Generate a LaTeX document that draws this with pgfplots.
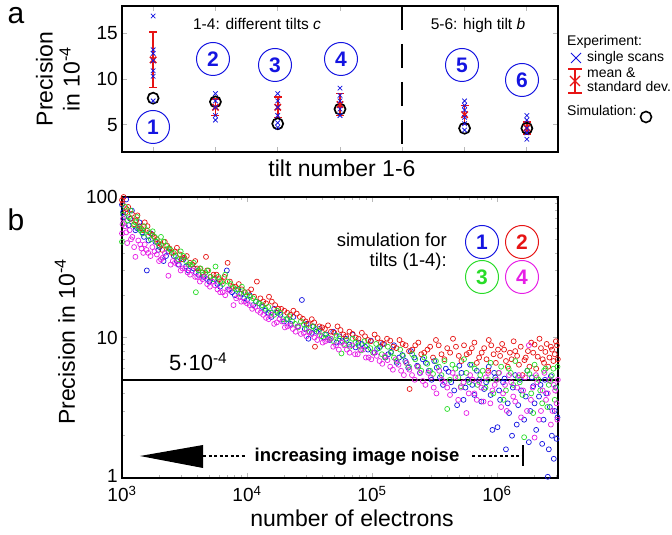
\documentclass[border=0pt]{standalone}
\usepackage{pgfplots}
\pgfplotsset{compat=1.18}
\usepackage{fontspec}
\setmainfont{Liberation Sans}
\definecolor{cblue}{RGB}{20,20,225}
\definecolor{cred}{RGB}{230,20,20}
\definecolor{cgreen}{RGB}{40,220,40}
\definecolor{cmag}{RGB}{230,30,230}
\newcommand{\fs}[1]{\fontsize{#1}{#1}\selectfont}
\tikzset{circnum/.style={circle, draw=#1, line width=1pt, minimum size=33pt, inner sep=0pt, text=#1, font=\bfseries\fs{21}}}
\pgfplotsset{sim/.style={only marks, mark=o, mark size=2.5pt, line width=0.7pt}}
\begin{document}
\begin{tikzpicture}
\useasboundingbox (-122pt,-57pt) rectangle (550pt,478pt);
% ---------------- panel a ----------------
\begin{axis}[at={(0pt,326pt)}, anchor=south west, scale only axis,
  width=436pt, height=146pt,
  xmin=0.5, xmax=7.5, ymin=2, ymax=18,
  xtick={1,2,3,4,5,6,7}, xticklabels={}, ytick={5,10,15},
  tick label style={font=\fs{19}}, /pgf/number format/assume math mode=true,
  line width=1.9pt, tick style={gray!55, line width=0.8pt},
  major tick length=5pt, clip=false]
\addplot[black, line width=1.7pt, dash pattern=on 24pt off 14pt] coordinates {(5,18) (5,2)};
\addplot[only marks, mark=o, mark size=5.5pt, black, line width=1.7pt] coordinates {
 (1,7.9) (2,7.5) (3,5.1) (4,6.7) (6,4.6) (7,4.6)};
\addplot[only marks, mark=x, mark size=4.5pt, cred, line width=1.6pt,
  error bars/.cd, y dir=both, y explicit,
  error bar style={line width=1.6pt, cred},
  error mark options={rotate=90, mark size=4pt, line width=1.6pt, cred}] coordinates {
 (1,12.1) +- (0,3.05)
 (2,6.9) +- (0,0.9)
 (3,6.9) +- (0,1.1)
 (4,7.2) +- (0,1.2)
 (6,6.1) +- (0,1.0)
 (7,4.65) +- (0,0.65)};
\addplot[only marks, mark=x, mark size=3.2pt, cblue, line width=0.8pt] coordinates {
 (1,16.9) (1,13.2) (1,12.8) (1,12.0) (1,10.9) (1,10.3) (1,7.6)
 (2,8.4) (2,7.6) (2,6.9) (2,6.0) (2,5.5)
 (3,8.4) (3,7.6) (3,6.9) (3,6.0) (3,5.2) (3,4.7)
 (4,9.0) (4,8.2) (4,7.6) (4,6.7) (4,6.0)
 (6,7.6) (6,7.1) (6,6.6) (6,5.8) (6,5.1) (6,4.4)
 (7,6.0) (7,5.5) (7,4.6) (7,4.1) (7,3.4)};
\end{axis}
% ---------------- panel b ----------------
\begin{axis}[at={(0pt,0pt)}, anchor=south west, scale only axis,
  width=436pt, height=281pt,
  xmode=log, ymode=log, xmin=1000, xmax=3.08e6, ymin=1, ymax=100,
  xtick={1e3,1e4,1e5,1e6},
  xticklabels={10\textsuperscript{3},10\textsuperscript{4},10\textsuperscript{5},10\textsuperscript{6}},
  ytick={1,10,100}, yticklabels={\raisebox{5pt}{1},10,100},
  minor xtick={2e3,3e3,4e3,5e3,6e3,7e3,8e3,9e3,2e4,3e4,4e4,5e4,6e4,7e4,8e4,9e4,2e5,3e5,4e5,5e5,6e5,7e5,8e5,9e5,2e6,3e6},
  minor ytick={2,3,4,5,6,7,8,9,20,30,40,50,60,70,80,90},
  tick label style={font=\fs{19}},
  xticklabel style={yshift=-4pt},
  line width=1.9pt, tick style={gray!55, line width=0.8pt},
  major tick length=5pt, minor tick length=3pt]
\addplot[sim, cblue] table {
x y
1000 88
1020 78
1040 72
1080 96
1130 63
1160 70
1200 80
1280 58
1320 60
1380 66
1450 56
1500 52
1580 30
1630 49
1700 55
1850 48
1950 42
2000 44
2150 35
2250 38
2350 41
2600 38
2750 35
2850 33
3100 36
3250 32
3400 30
3750 31
3900 29
4100 28
4500 27
4800 26
5000 25
5500 26
5800 24
6100 23
6900 30
7200 22
7600 21
8000 20
8500 22
9000 20.5
9500 19
10000 18.5
10500 20
11200 17
11800 18
12500 17.5
13200 16.5
14000 15.5
14800 15
15700 14
16500 16
17500 15
18500 14.5
19800 13
21000 13.5
22300 12.5
23500 14
25500 12
27500 18.5
29000 11.5
30000 12.5
31000 9.8
33000 10.8
34000 12
36000 11
38000 11.5
41000 10
43000 10.5
46000 9.6
49000 11
52000 9.2
55000 10.2
58000 9.4
62000 9.8
66000 8.9
70000 10.5
74000 8.5
78000 9.2
83000 9
88000 8.6
93000 8.2
98000 9.5
105000 7.8
110000 8.3
116000 8.6
122000 9
128000 7.2
135000 7.6
142000 7.9
150000 8.8
158000 6.6
165000 7.2
175000 7.5
185000 6.8
195000 6.1
205000 8
218000 7.2
230000 6.3
242000 5.6
255000 7
270000 6.6
285000 5.8
300000 5.0
315000 6.8
330000 6.1
350000 5.2
370000 4.6
390000 6
410000 5.7
430000 4.8
455000 4.2
480000 3.3
500000 6.3
520000 5.6
540000 3.6
560000 4.4
585000 5.0
610000 6.4
635000 4.6
660000 3.9
690000 5.8
720000 5
750000 3.5
790000 4.3
820000 4.8
860000 6.2
890000 3.9
920000 2.2
950000 5.6
970000 5.2
1010000 2.3
1040000 4.2
1060000 3.6
1120000 4.8
1150000 5.1
1180000 1.6
1220000 3.4
1250000 2.9
1320000 2.0
1340000 4.4
1400000 5.4
1440000 2.4
1480000 3.3
1530000 5.0
1560000 4.2
1650000 2.6
1700000 3.8
1750000 5.8
1800000 1.8
1850000 3.0
1900000 5.2
1950000 4.5
2000000 3.4
2060000 2.2
2170000 3.8
2230000 4.6
2300000 1.75
2360000 2.6
2420000 5.0
2480000 4.0
2550000 1.02
2600000 1.6
2650000 3.2
2700000 5.3
2750000 2.0
2850000 1.37
2900000 3.0
2950000 4.4
3000000 1.9
3050000 2.7
};
\addplot[sim, cred] table {
x y
1000 95
1010 90
1030 100
1070 78
1090 82
1120 85
1180 70
1200 76
1250 64
1300 68
1330 74
1380 62
1420 60
1480 58
1520 66
1600 62
1650 56
1750 54
1800 52
1900 50
1950 47
2050 46
2100 42
2200 48
2300 45
2400 43
2500 40
2650 41
2750 43.5
2900 39
3000 36
3150 37
3300 38
3500 34
3650 33
3850 35
4000 31
4200 31
4400 29
4700 37.5
4800 30
5100 27
5400 28
5700 28
6000 26
6300 25
6600 27
7000 34
7300 25
7700 23
8100 23
8600 24
9100 22
9600 21
10200 21
10800 22
11400 19.5
12000 25
12800 19
13500 18
14200 17.5
15000 19.5
15800 18
16800 17
17800 16
18800 16
19900 15.5
21000 15
22200 14.5
23500 15.5
25000 14.8
26500 14
28000 13.6
29500 13
31000 12.5
33000 13.5
34500 12.8
35000 8.6
38000 12
40000 11.8
42000 11.5
44500 12.2
47000 11
50000 10.8
53000 12
56000 11.3
59000 10.5
62000 10.2
66000 11
70000 10.6
74000 10
78000 9.8
83000 10.8
88000 10.2
93000 9.6
98000 9.4
105000 10.5
111000 9.9
118000 9.2
125000 9.0
132000 9.8
140000 9.5
148000 8.6
157000 8.4
166000 9.6
176000 9.0
186000 8.8
198000 8.0
200000 4.3
210000 8.2
222000 8.8
235000 9.2
248000 7.6
262000 7.8
278000 8.2
292000 8.6
308000 7.2
325000 9.6
342000 8.8
360000 7.6
380000 7.0
400000 8.4
422000 7.8
445000 9.8
470000 8.6
495000 7.4
520000 6.8
545000 8.8
572000 7.6
600000 7.8
630000 8.4
660000 9.2
690000 6.6
720000 7.2
755000 7.8
790000 8.4
825000 7.0
850000 5.8
860000 9.6
900000 8.8
940000 7.6
980000 6.6
1020000 8.2
1060000 7.4
1100000 9.0
1140000 8.2
1180000 6.8
1220000 6.2
1270000 7.8
1310000 7.0
1360000 9.4
1400000 8.0
1450000 7.4
1500000 6.4
1550000 8.6
1600000 5.4
1660000 6.9
1700000 7.2
1770000 8.0
1820000 6.2
1880000 9.2
1950000 7.8
2000000 8.9
2060000 6.0
2120000 7.3
2190000 9.8
2250000 8.4
2320000 7.0
2380000 6.6
2440000 7.9
2500000 9.0
2570000 6.2
2630000 7.2
2700000 8.6
2760000 8.2
2830000 6.8
2900000 7.6
2960000 9.4
3020000 8.8
3070000 7.0
};
\addplot[sim, cgreen] table {
x y
1000 48
1020 75
1040 65
1060 85
1110 68
1140 72
1170 80
1240 63
1280 66
1320 72
1360 60
1400 58
1460 55
1500 62
1580 58
1620 53
1700 50
1760 57
1830 52
1900 48
1980 45
2050 52
2150 48
2250 45
2350 43
2450 42
2580 40
2700 38
2830 36
2950 41
3100 38
3250 35
3400 33
3550 33
3750 34
3900 21
4100 30
4250 31
4450 28
4650 29
4900 30
5100 27
5350 26
5600 32
5900 27
6100 25
6400 24
6700 28
7000 25
7400 24
7800 22.5
8200 22
8700 20.5
9100 23
9600 21
10000 20
10600 19.5
11200 19
11800 18
12500 17.5
13200 17
14000 16
14800 16.5
15600 15
16500 14.5
17400 15.5
18400 15
19500 13.5
20600 13.5
21800 14.2
23000 13
24300 12.5
25600 11.8
27000 13
28500 12.4
30000 11.5
31700 11
33500 12
35500 11.5
37500 11
39700 10.2
42000 10.5
44500 10
47000 9.8
49500 9.4
52000 10.3
55000 9.8
57000 7.7
60000 9
63000 9.6
66500 8.6
70000 9.8
74000 9.2
78000 8.8
82000 8.1
87000 9.4
91000 8.8
97000 8.4
102000 7.8
108000 9
114000 8.4
120000 7.6
127000 7.2
134000 8.6
142000 7.8
150000 7.2
158000 6.8
168000 8.2
177000 7.4
188000 6.6
198000 6.2
210000 7.6
222000 7.0
235000 6.2
248000 5.8
262000 7.2
277000 6.5
292000 5.8
308000 5.5
325000 6.8
343000 6.2
360000 5.4
380000 6.8
400000 3.1
420000 5.0
440000 6.4
465000 6.0
490000 5.2
515000 4.5
545000 7.0
570000 5.6
600000 4.8
630000 6.4
665000 6.0
700000 4.6
735000 5.4
770000 5.8
810000 4.4
850000 5.0
890000 6.6
935000 4.0
980000 5.0
1030000 5.6
1080000 6.2
1130000 3.6
1180000 4.2
1240000 6.0
1290000 5.6
1350000 4.6
1400000 6.8
1470000 5.2
1520000 4.8
1600000 3.9
1650000 1.95
1750000 5.8
1820000 5.5
1880000 4.0
1950000 2.9
2000000 6.4
2080000 5.2
2150000 5.0
2220000 4.2
2300000 3.4
2380000 5.8
2450000 6.0
2530000 3.2
2600000 4.6
2680000 4.9
2750000 5.4
2830000 6.0
2900000 3.6
2980000 4.4
3050000 6.2
};
\addplot[sim, cmag] table {
x y
1000 55
1010 64
1020 70
1060 62
1080 56
1100 47
1150 58
1180 50
1210 52
1250 44
1280 37.5
1350 49
1400 46
1430 43
1480 40
1520 46
1570 42
1620 40
1690 38
1750 44
1820 41
1900 39
1980 35
2050 36
2120 37
2200 40
2350 27.5
2450 33
2550 35
2650 34
2800 33
2950 30
3050 31
3200 31
3350 29
3500 28
3650 30
3850 27
4000 27
4200 25
4400 26
4600 27
4800 24
5050 23
5300 25
5550 23.5
5800 22
6100 21
6400 21
6700 20
7000 22
7300 21.5
7800 17
8200 19
8600 19.5
9000 18
9500 18
10000 17.5
10500 17
11000 16
11600 16.5
12200 15.5
12800 15
13500 14.5
14200 13.8
14900 13.5
15700 14.5
16500 12.5
17300 12.8
18200 13.5
19100 13
20100 11.8
21100 12
22200 12.2
23300 11.5
24500 11
25700 12
27000 10.6
28400 10.8
29900 10.2
31400 11
33000 10.6
34700 10
36500 9.6
38300 10.4
40300 9.2
42300 9.4
44500 9.6
46700 9.8
49000 8.6
51600 8.8
54300 8.2
57000 9.2
60000 8.8
63000 8.2
66200 7.8
69600 8.8
73200 7.6
76900 7.6
80800 8.2
85000 8.2
89400 7.2
94000 7.2
98800 7.0
104000 7.8
109000 7.4
115000 6.8
121000 6.5
127000 7.4
133000 6.9
140000 6.2
147000 5.9
155000 7.0
163000 6.4
171000 5.8
180000 5.4
189000 6.6
199000 5.9
209000 5.4
220000 5.0
231000 6.2
243000 5.6
255000 4.9
268000 4.6
282000 5.6
296000 5.2
312000 4.4
328000 4.0
345000 5.8
362000 5.0
381000 4.8
400000 4.4
421000 3.9
442000 5.6
465000 5.2
490000 3.6
514000 4.4
540000 4.8
570000 2.9
595000 4.0
610000 5.4
640000 5.0
660000 4.0
690000 3.6
720000 4.8
750000 4.4
780000 3.5
815000 5.2
850000 5.6
885000 3.4
920000 4.2
960000 4.6
1000000 5.0
1040000 5.6
1080000 3.2
1120000 4.0
1160000 4.6
1200000 3.0
1250000 5.4
1300000 4.8
1350000 3.8
1400000 3.5
1450000 4.4
1500000 5.4
1560000 2.7
1620000 4.2
1680000 5.2
1740000 3.0
1800000 8.8
1870000 3.6
1930000 4.4
2000000 1.94
2050000 5.4
2100000 4.8
2170000 2.6
2250000 3.0
2320000 4.2
2400000 5.6
2470000 3.6
2550000 4.0
2620000 5.0
2700000 2.4
2780000 3.0
2850000 4.6
2920000 4.2
3000000 3.4
3040000 2.6
3070000 5.0
};
\addplot[black, line width=1.9pt] coordinates {(1000,5) (3.08e6,5)};
\node[anchor=base west, font=\fs{22}, yshift=9pt] at (axis cs:2200,5) {5·10\textsuperscript{-4}};
\end{axis}
% ---------------- annotations ----------------
\node[font=\fs{30}, inner sep=0pt] at (-106pt,462pt) {a};
\node[font=\fs{30}, inner sep=0pt] at (-106pt,258pt) {b};
\node[rotate=90, align=center, font=\fontsize{23}{27}\selectfont] at (-64pt,399pt) {Precision\\in 10\textsuperscript{-4}};
\node[anchor=base, font=\fs{23}] at (220pt,301pt) {tilt number 1-6};
\node[rotate=90, font=\fs{23}] at (-57pt,136pt) {Precision in 10\textsuperscript{-4}};
\node[anchor=base, font=\fs{23}] at (230pt,-49pt) {number of electrons};
% panel a texts
\node[anchor=base, font=\fs{15.5}] at (135pt,448pt) {1-4: different tilts \textit{c}};
\node[anchor=base, font=\fs{15.5}] at (356pt,448pt) {5-6: high tilt \textit{b}};
\node[circnum=cblue] at (31pt,351pt) {1};
\node[circnum=cblue] at (91pt,419pt) {2};
\node[circnum=cblue] at (153pt,413pt) {3};
\node[circnum=cblue] at (219pt,419pt) {4};
\node[circnum=cblue] at (340pt,413pt) {5};
\node[circnum=cblue] at (400pt,398pt) {6};
% panel a legend
\node[anchor=base west, font=\fs{14}, inner sep=0pt] at (445pt,432pt) {Experiment:};
\draw[cblue, line width=1pt] (449pt,415pt) -- (459pt,425pt) (449pt,425pt) -- (459pt,415pt);
\node[anchor=base west, font=\fs{14}, inner sep=0pt] at (465pt,416pt) {single scans};
\draw[cred, line width=1.8pt] (453pt,385pt) -- (453pt,409pt) (446pt,385pt) -- (460pt,385pt) (446pt,409pt) -- (460pt,409pt);
\draw[cred, line width=1.2pt] (448pt,392pt) -- (458pt,402pt) (448pt,402pt) -- (458pt,392pt);
\node[anchor=base west, font=\fs{14}, inner sep=0pt] at (465pt,400pt) {mean \&};
\node[anchor=base west, font=\fs{14}, inner sep=0pt] at (465pt,386pt) {standard dev.};
\node[anchor=base west, font=\fs{14}, inner sep=0pt] at (445pt,362pt) {Simulation:};
\draw[black, line width=1.6pt] (524pt,361pt) circle (5.5pt);
% panel b legend
\node[anchor=base east, font=\fs{18.5}, inner sep=0pt] at (325pt,231pt) {simulation for};
\node[anchor=base east, font=\fs{18.5}, inner sep=0pt] at (325pt,211pt) {tilts (1-4):};
\node[circnum=cblue] at (360pt,236pt) {1};
\node[circnum=cred] at (400pt,236pt) {2};
\node[circnum=cgreen] at (360pt,201pt) {3};
\node[circnum=cmag] at (400pt,201pt) {4};
% noise arrow
\fill[black] (18pt,22pt) -- (81pt,33pt) -- (81pt,10pt) -- cycle;
\draw[black, line width=1.5pt, dash pattern=on 3pt off 2.5pt] (81pt,22pt) -- (124pt,22pt);
\node[anchor=base, font=\bfseries\fs{18.5}] at (235pt,16pt) {increasing image noise};
\draw[black, line width=1.5pt, dash pattern=on 3pt off 2.5pt] (350pt,22pt) -- (400pt,22pt);
\draw[black, line width=2.6pt] (401pt,12pt) -- (401pt,33pt);
\end{tikzpicture}
\end{document}
